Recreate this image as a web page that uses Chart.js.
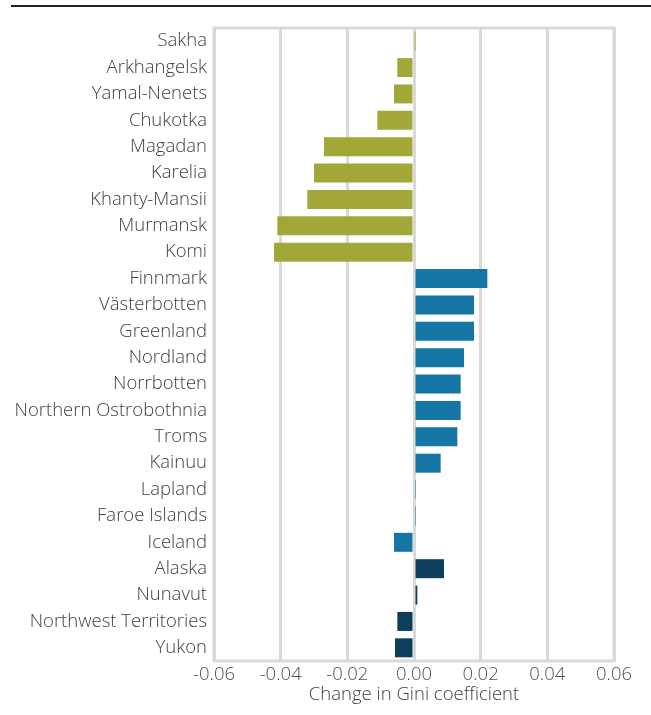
<!DOCTYPE html>
<html>
<head>
<meta charset="utf-8">
<script src="https://cdn.jsdelivr.net/npm/chart.js@4"></script>
<style>
  html, body { margin: 0; padding: 0; background: #fff; }
  #wrap { position: relative; width: 651px; height: 715px; }
  #rule { position: absolute; left: 11px; right: 0; top: 5px; height: 0; border-top: 2px solid #222; }
</style>
</head>
<body>
<div id="wrap">
  <div id="rule"></div>
  <canvas id="giniChart" width="651" height="715"></canvas>
</div>
<script>
const regions = [
    'Sakha', 'Arkhangelsk', 'Yamal-Nenets', 'Chukotka', 'Magadan', 'Karelia',
    'Khanty-Mansii', 'Murmansk', 'Komi', 'Finnmark', 'Västerbotten', 'Greenland',
    'Nordland', 'Norrbotten', 'Northern Ostrobothnia', 'Troms', 'Kainuu', 'Lapland',
    'Faroe Islands', 'Iceland', 'Alaska', 'Nunavut', 'Northwest Territories', 'Yukon'
];
const giniChange = [
    0.0002, -0.005, -0.006, -0.011, -0.027, -0.030,
    -0.032, -0.041, -0.042, 0.022, 0.018, 0.018,
    0.015, 0.014, 0.014, 0.013, 0.008, 0.0003,
    0.0003, -0.006, 0.009, 0.001, -0.005, -0.0057
];
const regionGroup = [
    'russia', 'russia', 'russia', 'russia', 'russia', 'russia',
    'russia', 'russia', 'russia', 'nordic', 'nordic', 'nordic',
    'nordic', 'nordic', 'nordic', 'nordic', 'nordic', 'nordic',
    'nordic', 'nordic', 'northAmerica', 'northAmerica', 'northAmerica', 'northAmerica'
];
const xTicks = [-0.06, -0.04, -0.02, 0, 0.02, 0.04, 0.06];

const groupColors = {
    russia: '#a2a838',
    nordic: '#1576a5',
    northAmerica: '#0d3f5c'
};

// frame round the plot area
const plotFrame = {
    id: 'plotFrame',
    afterDraw(chart) {
        const { ctx, chartArea: a } = chart;
        ctx.save();
        ctx.strokeStyle = '#d9d9d9';
        ctx.lineWidth = 3;
        ctx.strokeRect(a.left, a.top, a.right - a.left, a.bottom - a.top);
        ctx.restore();
    }
};

Chart.defaults.font.family = "'Open Sans', 'Noto Sans', sans-serif";
Chart.defaults.font.weight = 300;
Chart.defaults.color = '#444';

const ctx = document.getElementById('giniChart').getContext('2d');
new Chart(ctx, {
    type: 'bar',
    data: {
        labels: regions,
        datasets: [{
            data: giniChange,
            backgroundColor: regionGroup.map(g => groupColors[g]),
            borderWidth: 0,
            categoryPercentage: 1,
            barPercentage: 0.72
        }]
    },
    options: {
        indexAxis: 'y',
        responsive: false,
        animation: false,
        layout: { padding: { left: 0, right: 37, top: 28, bottom: 0 } },
        plugins: {
            legend: { display: false },
            tooltip: { enabled: false }
        },
        scales: {
            x: {
                min: -0.06,
                max: 0.06,
                afterBuildTicks: scale => { scale.ticks = xTicks.map(v => ({ value: v })); },
                afterFit: scale => { scale.height = 54; },
                grid: { color: '#d9d9d9', lineWidth: 3, drawTicks: false },
                border: { display: false },
                ticks: {
                    padding: 3,
                    font: { size: 18.5, weight: 300 },
                    color: '#505050',
                    callback: v => (Math.abs(v) < 1e-9 ? 0 : v).toFixed(2)
                },
                title: {
                    display: true,
                    text: 'Change in Gini coefficient',
                    font: { size: 18.5, weight: 300 },
                    color: '#404040',
                    padding: { top: 0, bottom: 9 }
                }
            },
            y: {
                afterFit: scale => { scale.width = 214; },
                grid: { display: false, drawTicks: false },
                border: { display: false },
                ticks: {
                    padding: 7,
                    autoSkip: false,
                    font: { size: 18.5, weight: 300 },
                    color: '#404040'
                }
            }
        }
    },
    plugins: [plotFrame]
});
</script>
</body>
</html>
